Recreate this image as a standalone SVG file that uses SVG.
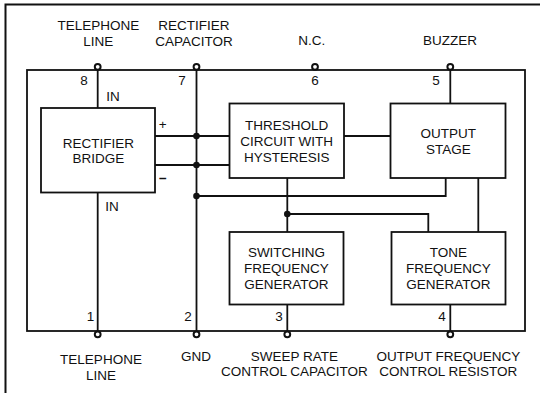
<svg xmlns="http://www.w3.org/2000/svg" width="540" height="393" viewBox="0 0 540 393">
<style>
text{font-family:"Liberation Sans",Arial,sans-serif;font-size:13.5px;fill:#111;text-anchor:middle}
.box{fill:#fff;stroke:#111;stroke-width:1.8}
.ln{fill:none;stroke:#111;stroke-width:1.8}
.dot{fill:#111}
.pin{fill:#fff;stroke:#111;stroke-width:2}
</style>
<rect width="540" height="393" fill="#fff"/>
<path d="M5.5 393 V4.5 H540" fill="none" stroke="#111" stroke-width="2"/>
<g id="chip"><rect class="ln" x="27" y="70" width="498" height="261"/></g>
<g id="connectors">
<path class="ln" d="M97.7 70 V108"/>
<path class="ln" d="M97.7 192.5 V331"/>
<path class="ln" d="M196.5 70 V331"/>
<path class="ln" d="M155 136 H229.5"/>
<path class="ln" d="M155 165 H229.5"/>
<path class="ln" d="M196.5 196 H445.7 V178"/>
<path class="ln" d="M344 136 H390.5"/>
<path class="ln" d="M287.3 178 V232"/>
<path class="ln" d="M287.3 214 H428.3 V232"/>
<path class="ln" d="M478.3 178 V232"/>
<path class="ln" d="M287.3 304.5 V331"/>
<path class="ln" d="M450.3 304.5 V331"/>
<path class="ln" d="M450.3 70 V103.5"/>
<circle class="dot" cx="196.5" cy="136" r="3.3"/>
<circle class="dot" cx="196.5" cy="165" r="3.3"/>
<circle class="dot" cx="196.5" cy="196" r="3.3"/>
<circle class="dot" cx="287.3" cy="214" r="3.3"/>
</g>
<g id="pins">
<circle class="pin" cx="97.7" cy="66.8" r="2.9"/>
<circle class="pin" cx="196.5" cy="66.8" r="2.9"/>
<circle class="pin" cx="315" cy="66.8" r="2.9"/>
<circle class="pin" cx="450.3" cy="66.8" r="2.9"/>
<circle class="pin" cx="97.7" cy="334.3" r="2.9"/>
<circle class="pin" cx="196.5" cy="334.3" r="2.9"/>
<circle class="pin" cx="287.3" cy="334.3" r="2.9"/>
<circle class="pin" cx="450.3" cy="334.3" r="2.9"/>
<text x="84" y="85">8</text>
<text x="182" y="85">7</text>
<text x="315" y="85">6</text>
<text x="436" y="85">5</text>
<text x="90.5" y="321">1</text>
<text x="188" y="321">2</text>
<text x="279" y="321">3</text>
<text x="442" y="321">4</text>
</g>
<g id="labels">
<text x="98.3" y="30">TELEPHONE</text>
<text x="98.3" y="45.7">LINE</text>
<text x="194" y="30">RECTIFIER</text>
<text x="194" y="45.7">CAPACITOR</text>
<text x="311.7" y="45">N.C.</text>
<text x="450" y="45">BUZZER</text>
<text x="101" y="364">TELEPHONE</text>
<text x="101" y="380">LINE</text>
<text x="196" y="361">GND</text>
<text x="294.3" y="361">SWEEP RATE</text>
<text x="294.3" y="376">CONTROL CAPACITOR</text>
<text x="448.3" y="361">OUTPUT FREQUENCY</text>
<text x="448.3" y="376">CONTROL RESISTOR</text>
<text x="113" y="100.7">IN</text>
<text x="112" y="210.7">IN</text>
<text x="162.7" y="128.5">+</text>
<text x="163" y="183" font-weight="bold">−</text>
</g>
<g id="rectifier-bridge">
<rect class="box" x="41" y="108" width="114" height="84.5"/>
<text x="98.5" y="148.3">RECTIFIER</text>
<text x="98.5" y="163.3">BRIDGE</text>
</g>
<g id="threshold">
<rect class="box" x="229.5" y="103.5" width="114.5" height="74.5"/>
<text x="286.7" y="130">THRESHOLD</text>
<text x="286.7" y="145.8">CIRCUIT WITH</text>
<text x="286.7" y="161.6">HYSTERESIS</text>
</g>
<g id="output-stage">
<rect class="box" x="390.5" y="103.5" width="115" height="74.5"/>
<text x="448.3" y="138.3">OUTPUT</text>
<text x="448.3" y="154">STAGE</text>
</g>
<g id="switching">
<rect class="box" x="229.5" y="232" width="114" height="72.5"/>
<text x="286.5" y="256.7">SWITCHING</text>
<text x="286.5" y="272.7">FREQUENCY</text>
<text x="286.5" y="289">GENERATOR</text>
</g>
<g id="tone">
<rect class="box" x="391.5" y="232" width="114" height="72.5"/>
<text x="448.5" y="256.7">TONE</text>
<text x="448.5" y="272.7">FREQUENCY</text>
<text x="448.5" y="289">GENERATOR</text>
</g>
</svg>
